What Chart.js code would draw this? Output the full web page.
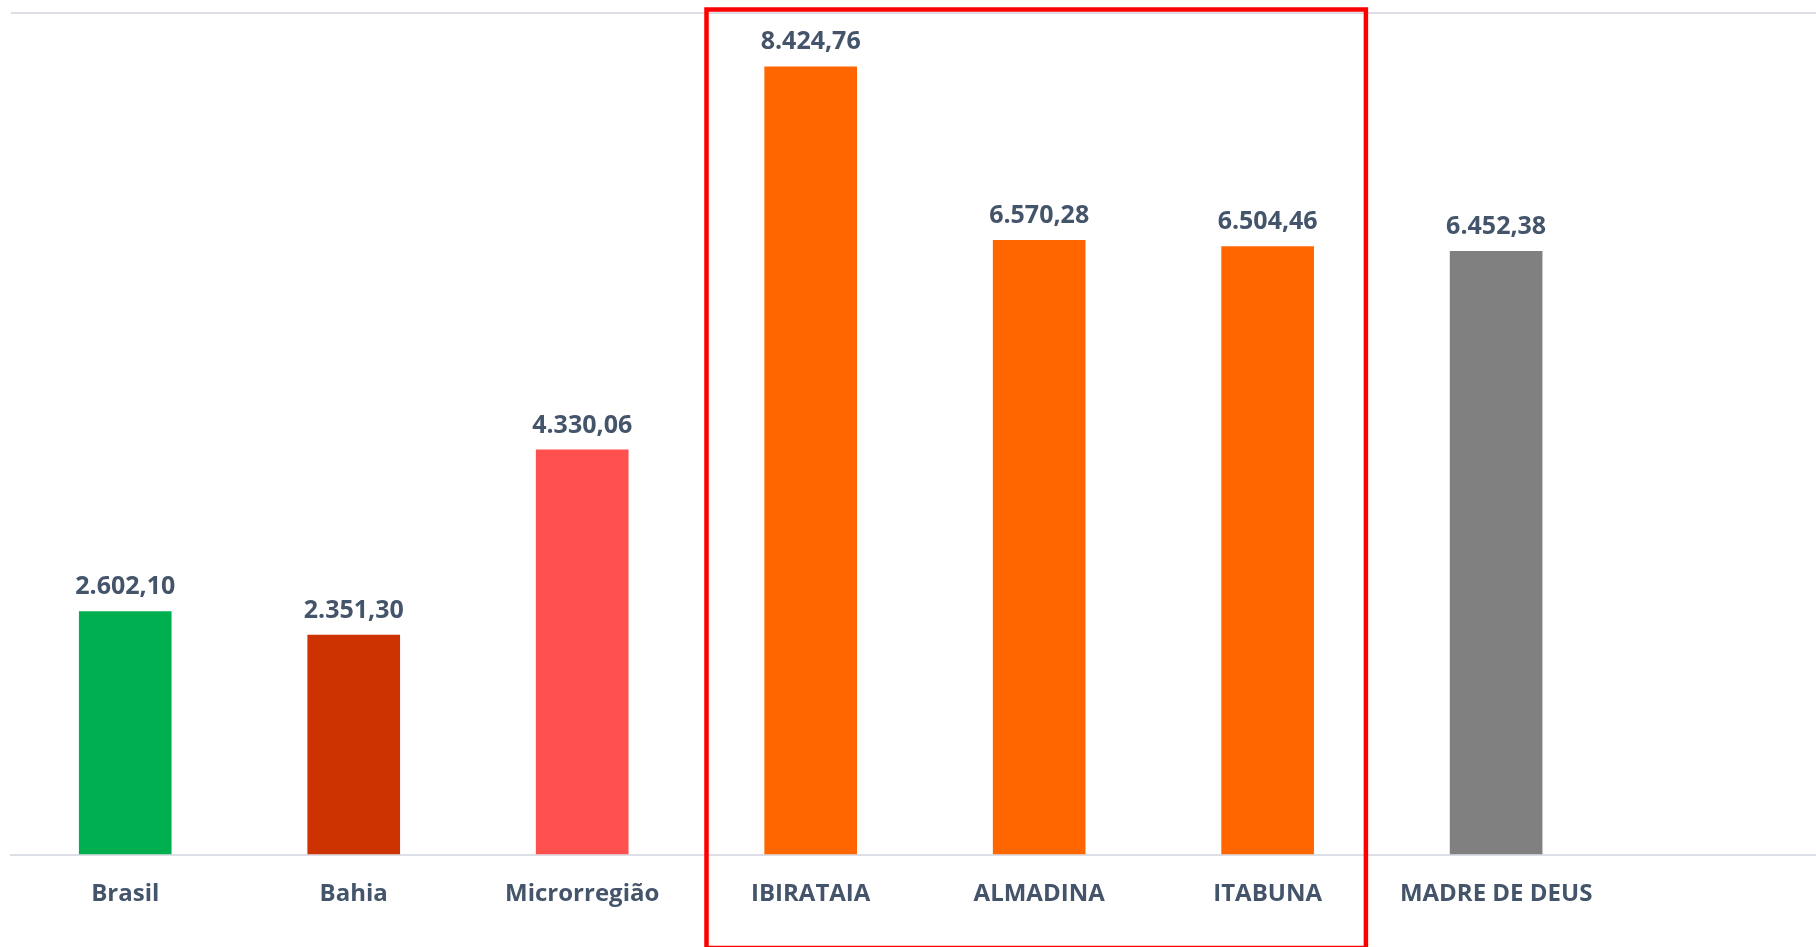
<!DOCTYPE html>
<html>
<head>
<meta charset="utf-8">
<script src="https://cdn.jsdelivr.net/npm/chart.js@4"></script>
<style>
  html, body { margin: 0; padding: 0; background: #ffffff; overflow: hidden; }
  #wrap { width: 1816px; height: 947px; position: relative; }
</style>
</head>
<body>
<div id="wrap"><canvas id="c"></canvas></div>
<script>
const categories = ['Brasil', 'Bahia', 'Microrregião', 'IBIRATAIA', 'ALMADINA', 'ITABUNA', 'MADRE DE DEUS'];
const values = [2602.10, 2351.30, 4330.06, 8424.76, 6570.28, 6504.46, 6452.38];
const barColors = ['#00B050', '#CC3300', '#FF5050', '#FF6600', '#FF6600', '#FF6600', '#808080'];
const yTicks = [0, 9000];
const highlightFrom = 2.544;   // category-index position of the red frame's left edge
const highlightTo = 5.43;      // category-index position of the red frame's right edge

const TEXT = '#44546A';
const FONT = "'Open Sans', 'Noto Sans', sans-serif";

function fmtBR(v) {
  const parts = v.toFixed(2).split('.');
  const intPart = parts[0].replace(/\B(?=(\d{3})+(?!\d))/g, '.');
  return intPart + ',' + parts[1];
}

const valueLabels = {
  id: 'valueLabels',
  afterDatasetsDraw(chart) {
    const ctx = chart.ctx;
    const meta = chart.getDatasetMeta(0);
    ctx.save();
    ctx.fillStyle = TEXT;
    ctx.font = "bold 25px " + FONT;
    ctx.textAlign = 'center';
    ctx.textBaseline = 'bottom';
    meta.data.forEach((el, i) => {
      ctx.fillText(fmtBR(values[i]), el.x, el.y - 12);
    });
    ctx.restore();
  }
};

const highlightFrame = {
  id: 'highlightFrame',
  afterDraw(chart) {
    const ctx = chart.ctx;
    const xs = chart.scales.x;
    const left = xs.getPixelForValue(highlightFrom);
    const right = xs.getPixelForValue(highlightTo);
    const top = chart.chartArea.top - 3.5;
    const bottom = chart.height + 1;
    ctx.save();
    ctx.strokeStyle = '#FF0000';
    ctx.lineWidth = 4.5;
    ctx.strokeRect(left, top, right - left, bottom - top);
    ctx.restore();
  }
};

new Chart(document.getElementById('c'), {
  type: 'bar',
  data: {
    datasets: [{
      data: values.map((v, i) => ({ x: i, y: v })),
      backgroundColor: barColors,
      borderWidth: 0,
      barThickness: 92
    }]
  },
  options: {
    responsive: true,
    maintainAspectRatio: false,
    animation: false,
    layout: { padding: { left: 11, top: 13, right: 0, bottom: 0 } },
    plugins: {
      legend: { display: false },
      tooltip: { enabled: false },
      title: { display: false }
    },
    scales: {
      x: {
        type: 'linear',
        offset: false,
        min: -0.5,
        max: 7.4,
        afterBuildTicks(scale) {
          scale.ticks = categories.map((_, i) => ({ value: i }));
        },
        afterFit(scale) { scale.height = 92; },
        grid: { display: false, drawTicks: false, offset: false },
        border: { display: true, color: '#DCE0E6', width: 2 },
        ticks: {
          autoSkip: false,
          maxRotation: 0,
          padding: 25,
          color: TEXT,
          font: { family: FONT, size: 24, weight: 'bold' },
          callback: (v) => categories[v] !== undefined ? categories[v] : ''
        }
      },
      y: {
        min: 0,
        max: 9000,
        afterBuildTicks(scale) {
          scale.ticks = yTicks.map(v => ({ value: v }));
        },
        afterFit(scale) { scale.width = 0; },
        grid: { display: true, drawTicks: false, color: '#DCE0E6', lineWidth: 2 },
        border: { display: false },
        ticks: { display: false }
      }
    }
  },
  plugins: [valueLabels, highlightFrame]
});
</script>
</body>
</html>
